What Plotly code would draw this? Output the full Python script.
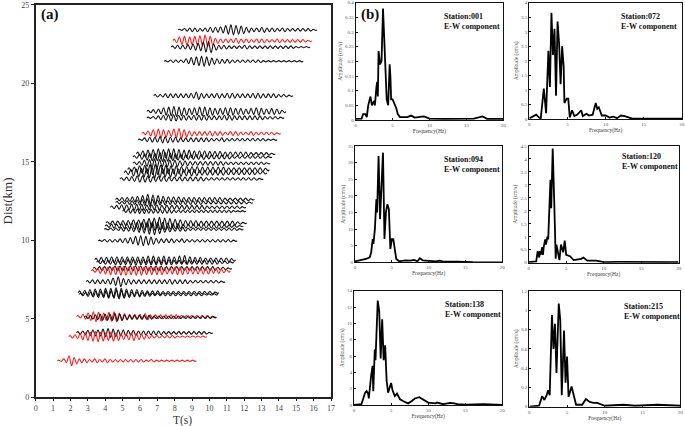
import plotly.graph_objects as go

W, H = 685, 426

# ---------------- Panel (a): seismogram record section ----------------
# distance (km), start time (s), end time (s), highlighted (red) flag
trace_dist = [23.4, 22.7, 22.3, 21.4, 19.2, 18.2, 17.8, 16.8, 16.4, 15.5, 15.3, 14.9,
              14.5, 14.3, 13.9, 12.6, 12.4, 12.1, 11.85, 11.1, 10.9, 10.7, 9.97, 8.75,
              8.6, 8.2, 8.05, 7.36, 6.66, 6.55, 5.13, 5.1, 4.1, 3.86, 2.33]
trace_t0 = [8.2, 7.9, 7.8, 7.4, 6.8, 6.4, 6.4, 6.1, 5.9, 5.8, 5.6, 5.6,
            5.3, 5.1, 4.85, 4.6, 4.6, 4.3, 5.0, 4.05, 4.0, 3.95, 3.6, 3.4,
            3.5, 3.3, 3.2, 2.9, 2.45, 2.5, 2.35, 2.8, 2.35, 1.9, 1.25]
trace_t1 = [16.2, 15.9, 15.8, 15.4, 14.8, 14.4, 14.3, 14.1, 13.9, 13.8, 13.6, 13.5,
            13.45, 13.3, 13.1, 12.6, 12.5, 12.1, 12.1, 12.15, 11.95, 11.95, 11.6, 11.5,
            11.4, 11.3, 11.2, 10.9, 10.55, 10.5, 10.4, 10.4, 10.2, 9.85, 9.25]
trace_red = [0, 1, 0, 0, 0, 0, 0, 1, 0, 0, 0, 0,
             0, 0, 0, 0, 0, 0, 0, 0, 0, 0, 0, 0,
             0, 0, 1, 0, 0, 0, 1, 0, 0, 1, 1]

# per-cycle peak amplitudes (units of 0.04 km)
w01 = [1,2,3,3,2,3,4,4,5,7,8,7,6,4,3,3,4,3,3,2,3,2,2,2,2,2,1]
w02 = [3,6,7,6,7,8,9,7,4,3,3,3,4,3,3,2,3,3,2,2,3,2,2,2,2,2,1]
w03 = [2,3,3,4,5,6,8,9,5,3,3,2,2,2,3,2,2,2,2,2,2,2,2,2,1,1,1]
w04 = [1,2,2,2,4,6,7,8,7,5,4,3,3,2,2,2,2,2,2,1,1,1,1,1,1,1,1]
w05 = [2,2,3,3,3,3,3,4,6,4,3,3,4,3,4,4,3,3,3,4,4,3,3,3,2,2,1]
w06 = [2,3,4,6,7,8,7,6,5,6,7,7,6,5,5,6,6,5,5,4,5,6,5,4,5,4,2]
w07 = [1,2,3,4,5,5,4,4,3,4,4,4,3,3,3,4,4,3,3,3,3,3,3,2,2,2,1]
w08 = [2,4,6,7,6,5,7,8,6,4,3,3,3,4,3,3,2,3,3,2,2,3,2,2,2,2,1]
w09 = [1,3,4,4,5,5,4,4,3,3,3,3,3,3,2,2,3,2,2,2,2,2,2,2,2,1,1]
w10 = [3,5,6,7,8,7,8,8,7,6,6,5,5,5,4,4,4,3,3,3,3,3,2,2,2,2,1]
w11 = [2,4,5,6,6,7,7,6,5,5,4,4,4,4,3,3,3,3,3,2,2,2,2,2,2,2,1]
w12 = [2,3,5,6,7,6,6,5,5,4,4,3,3,3,3,3,3,3,2,2,2,2,2,2,2,2,1]
w13 = [3,4,6,7,8,8,7,7,6,6,5,5,5,5,4,4,4,4,4,3,3,3,3,3,3,3,2]
w14 = [3,5,6,7,8,9,8,7,7,6,6,5,5,5,4,4,4,4,4,3,3,3,3,3,3,2,2]
w15 = [2,3,4,5,5,5,4,4,4,3,3,3,3,3,3,3,2,2,2,2,2,2,2,2,2,2,1]
w16 = [2,3,3,4,5,6,8,7,6,5,4,4,4,3,3,3,3,3,3,3,3,2,2,2,2,2,1]
w17 = [2,2,3,3,4,5,6,5,4,4,3,3,3,3,3,3,3,2,2,2,2,2,2,2,2,2,1]
w18 = [2,3,4,4,5,5,5,4,4,4,3,3,3,3,3,3,3,3,3,2,2,2,2,2,2,2,1]
w19 = [2,3,3,4,4,3,3,3,3,3,3,2,2,2,2,2,2,2,2,2,2,2,2,2,1,1,1]
w20 = [2,3,3,4,4,5,5,6,7,8,9,8,7,6,5,4,4,4,3,3,3,3,3,3,3,2,1]
w21 = [2,3,3,4,4,5,6,6,7,7,6,6,5,4,4,3,3,3,3,3,3,3,3,2,2,2,1]
w22 = [1,2,2,3,3,4,5,6,8,9,7,5,4,3,3,3,2,2,2,2,2,2,2,2,2,2,1]
w23 = [1,2,2,2,3,4,5,7,8,7,6,4,3,3,3,2,3,2,2,2,2,2,2,2,2,2,1]
w24 = [3,4,4,5,5,5,5,5,5,5,6,6,5,6,5,5,6,7,5,4,4,3,3,3,3,3,2]
w25 = [2,3,3,4,4,4,5,5,4,4,4,4,4,4,4,3,3,3,3,3,3,3,3,3,2,2,1]
w26 = [2,3,3,3,4,4,4,4,4,4,4,4,4,4,3,3,3,3,3,3,3,3,3,3,2,2,1]
w27 = [2,4,5,6,6,7,7,6,7,7,6,6,6,6,5,5,6,6,5,5,5,5,5,4,4,3,2]
w28 = [2,3,3,3,4,6,8,5,4,3,3,3,3,3,3,3,4,3,3,3,2,2,2,2,2,2,1]
w29 = [3,4,5,6,6,7,7,8,7,6,5,5,4,3,3,3,2,2,2,2,2,2,2,2,2,2,1]
w30 = [2,3,4,5,5,6,6,7,6,5,4,4,3,3,2,2,2,2,2,2,2,2,2,2,1,1,1]
w31 = [2,4,6,8,7,6,7,8,6,5,4,4,4,5,3,3,3,3,3,3,2,2,2,2,2,2,1]
w32 = [2,3,4,5,5,5,6,5,4,3,3,3,3,3,2,2,2,2,2,2,2,2,2,2,2,2,1]
w33 = [2,3,4,5,5,6,7,6,5,5,4,4,3,3,3,3,3,2,2,2,2,2,2,2,2,2,1]
w34 = [2,3,5,6,7,8,7,6,7,6,5,5,6,5,4,3,2,2,2,2,2,1,1,1,1,1,1]
w35 = [1,3,8,5,3,3,2,3,2,3,2,2,2,2,2,2,2,1,2,1,1,1,1,1,1,1,1]
trace_amps = [w01, w02, w03, w04, w05, w06, w07, w08, w09, w10, w11, w12, w13, w14,
              w15, w16, w17, w18, w19, w20, w21, w22, w23, w24, w25, w26, w27, w28,
              w29, w30, w31, w32, w33, w34, w35]
AMP_UNIT = 0.04

# ---------------- Panel (b): amplitude spectra ----------------
stations = ["001", "072", "094", "120", "138", "215"]
f001 = [0, 0.8, 1.0, 1.3, 1.5, 1.7, 2.0, 2.2, 2.5, 2.6, 2.8, 2.9, 3.0, 3.1, 3.3, 3.4, 3.5, 3.7, 3.8,
        3.9, 4.0, 4.1, 4.2, 4.4, 4.6, 4.7, 4.8, 5.0, 5.2, 5.5, 5.7, 6.0, 7.0, 7.5, 8.0, 9.2, 9.5,
        10, 12, 14, 16, 17.2, 17.8, 20]
a001 = [0.004, 0.005, 0.02, 0.02, 0.01, 0.05, 0.08, 0.05, 0.065, 0.05, 0.11, 0.13, 0.08, 0.235,
        0.19, 0.2, 0.2, 0.38, 0.32, 0.25, 0.24, 0.15, 0.07, 0.05, 0.19, 0.15, 0.07, 0.07, 0.06,
        0.04, 0.02, 0.01, 0.01, 0.015, 0.008, 0.012, 0.01, 0.005, 0.004, 0.004, 0.005, 0.012,
        0.004, 0.004]
f072 = [0, 0.9, 1.3, 1.5, 1.9, 2.1, 2.2, 2.5, 2.7, 2.9, 3.1, 3.3, 3.5, 3.7, 3.9, 4.1, 4.3, 4.5,
        4.6, 4.9, 5.1, 5.3, 5.6, 5.9, 6.3, 6.8, 7.0, 7.5, 7.8, 8.3, 8.7, 8.9, 9.1, 9.5, 10, 10.5,
        11, 11.5, 12, 12.5, 13, 13.5, 15, 20]
a072 = [0.02, 0.15, 0.05, 0.02, 1.05, 0.5, 0.2, 2.35, 1.1, 3.65, 2.2, 3.1, 0.8, 3.35, 2.6, 1.2,
        2.5, 1.8, 0.55, 0.7, 0.7, 0.05, 0.3, 0.1, 0.15, 0.3, 0.1, 0.18, 0.12, 0.15, 0.55, 0.35,
        0.4, 0.12, 0.12, 0.05, 0.08, 0.03, 0.12, 0.1, 0.05, 0.01, 0.01, 0.01]
f094 = [0, 0.5, 1.0, 1.5, 2.0, 2.2, 2.4, 2.5, 2.7, 2.9, 3.0, 3.2, 3.4, 3.6, 3.8, 4.0, 4.2, 4.4,
        4.6, 4.8, 5.0, 5.2, 5.4, 5.6, 6.0, 6.8, 7.5, 8.0, 8.5, 8.8, 9.2, 10, 11, 11.5, 12, 14,
        16, 20]
a094 = [0.3, 0.5, 0.8, 1.0, 1.5, 3.0, 7.0, 5.5, 10, 19, 15, 32, 13, 25, 33, 7, 15, 17.5, 16, 4,
        7, 7, 3, 1, 0.3, 0.6, 0.5, 0.7, 0.3, 1.2, 0.6, 0.4, 0.3, 0.5, 0.2, 0.2, 0.05, 0.0]
f120 = [0, 1.0, 1.2, 1.4, 1.5, 1.6, 1.8, 1.9, 2.0, 2.2, 2.3, 2.5, 2.6, 2.8, 2.9, 3.0, 3.2, 3.4,
        3.6, 3.7, 3.9, 4.1, 4.3, 4.6, 4.8, 5.0, 5.5, 6.0, 7.0, 7.3, 7.8, 9.0, 10, 12, 20]
a120 = [0.02, 0.05, 0.45, 0.2, 0.45, 0.3, 0.6, 0.3, 0.6, 0.9, 0.7, 1.0, 0.9, 2.2, 3.2, 2.1, 4.4,
        2.4, 0.15, 0.7, 0.3, 0.1, 0.7, 0.4, 0.85, 0.3, 0.25, 0.1, 0.15, 0.2, 0.08, 0.08, 0.02,
        0.03, 0.02]
f138 = [0, 1.0, 1.5, 1.7, 1.9, 2.0, 2.3, 2.5, 2.6, 2.8, 2.9, 3.0, 3.2, 3.4, 3.6, 3.8, 3.9, 4.0,
        4.2, 4.4, 4.6, 5.0, 5.2, 5.5, 5.8, 6.2, 6.8, 7.3, 7.8, 8.2, 8.8, 9.5, 10, 11, 11.2, 12,
        13, 13.5, 14, 15, 17.5, 20]
a138 = [0, 0.1, 1.5, 1.7, 1.4, 0.8, 3.5, 4.8, 1.7, 6.8, 5.5, 8, 12.8, 11.5, 5.7, 10.5, 8, 5.5,
        7.3, 3, 1.5, 2.7, 1.8, 1.1, 1.4, 0.7, 0.4, 0.2, 0.5, 0.8, 0.95, 0.6, 0.3, 0.2, 0.3, 0.1,
        0.25, 0.2, 0.1, 0.05, 0.1, 0.02]
f215 = [0, 1.3, 1.7, 2.0, 2.3, 2.5, 2.7, 3.0, 3.2, 3.4, 3.6, 3.9, 4.1, 4.3, 4.6, 4.8, 5.0, 5.2,
        5.6, 5.9, 6.2, 7.0, 7.5, 8.0, 8.5, 9.0, 10, 12.5, 14, 17, 20]
a215 = [0, 0.01, 0.11, 0.07, 0.12, 0.17, 0.12, 0.95, 0.6, 0.86, 0.35, 1.07, 0.9, 0.12, 0.79,
        0.25, 0.52, 0.1, 0.21, 0.1, 0.02, 0.02, 0.08, 0.05, 0.04, 0.04, 0.01, 0.02, 0.01, 0.02,
        0.01]
spec_f = [f001, f072, f094, f120, f138, f215]
spec_a = [a001, a072, a094, a120, a138, a215]
spec_ymax = [0.4, 4, 35, 4.5, 14, 1.2]
spec_dtick = [0.05, 0.5, 5, 0.5, 2, 0.2]

fig = go.Figure()

# draw seismograms
for d, t0, t1, red, amps in zip(trace_dist, trace_t0, trace_t1, trace_red, trace_amps):
    n = len(amps)
    T = (t1 - t0) / n
    xs, ys = [t0], [d]
    for i, a in enumerate(amps):
        xs += [t0 + (i + 0.25) * T, t0 + (i + 0.75) * T]
        ys += [d + a * AMP_UNIT, d - a * AMP_UNIT]
    xs.append(t1)
    ys.append(d)
    fig.add_trace(go.Scatter(
        x=xs, y=ys, mode="lines", xaxis="x", yaxis="y",
        line=dict(color="#ff1a1a" if red else "#111111", width=1.1, shape="spline", smoothing=1.0),
        showlegend=False, hoverinfo="skip"))

# panel pixel boxes (left, right, top, bottom)
boxes = [
    (355.7, 503.3, 2.7, 120.0),
    (529.3, 682.0, 2.7, 119.0),
    (355.0, 502.3, 146.0, 262.3),
    (528.7, 678.7, 146.0, 262.7),
    (354.0, 502.3, 290.7, 405.0),
    (529.3, 680.3, 291.0, 406.7),
]
serif = "Liberation Serif"

layout = dict(
    width=W, height=H, margin=dict(l=0, r=0, t=0, b=0, autoexpand=False),
    paper_bgcolor="white", plot_bgcolor="white", showlegend=False,
    font=dict(family=serif, color="#333333"),
    xaxis=dict(domain=[35.7 / W, 331 / W], range=[0, 17], dtick=1, tick0=0, automargin=False,
               showline=True, linecolor="#222", linewidth=1.5, mirror=True,
               ticks="outside", ticklen=2, tickcolor="#222", showgrid=False, zeroline=False,
               tickfont=dict(size=8, family=serif, color="#444")),
    yaxis=dict(domain=[1 - 397.3 / H, 1 - 4.7 / H], range=[0, 25], dtick=5, tick0=0, automargin=False,
               showline=True, linecolor="#222", linewidth=1.5, mirror=True,
               ticks="outside", ticklen=3, tickcolor="#222", showgrid=False, zeroline=False,
               tickfont=dict(size=8, family=serif, color="#444"),
               title=dict(text="Dist(km)", font=dict(size=13, family=serif, color="#333"), standoff=6)),
)

annotations = [
    dict(text="T(s)", x=183 / W, y=1 - 420 / H, xref="paper", yref="paper",
         xanchor="center", yanchor="middle", showarrow=False,
         font=dict(size=11.5, family=serif, color="#333")),
    dict(text="<b>(a)</b>", x=39 / W, y=1 - 14 / H, xref="paper", yref="paper",
         xanchor="left", yanchor="middle", showarrow=False,
         font=dict(size=15, family=serif, color="#111")),
    dict(text="<b>(b)</b>", x=359 / W, y=1 - 15 / H, xref="paper", yref="paper",
         xanchor="left", yanchor="middle", showarrow=False,
         font=dict(size=15, family=serif, color="#111")),
]
label_pos = [(441.7, 15.5), (619.3, 15.5), (442.3, 158.3), (620.3, 156.0), (442.7, 303.3), (622.0, 305.0)]

for k in range(6):
    ax = k + 2
    l, r, t, b = boxes[k]
    layout[f"xaxis{ax}"] = dict(
        domain=[l / W, r / W], range=[0, 20], dtick=5, tick0=0, anchor=f"y{ax}", automargin=False,
        showline=True, linecolor="#111", linewidth=1, mirror=True,
        ticks="inside", ticklen=2, tickcolor="#111", showgrid=False, zeroline=False,
        tickfont=dict(size=5, family=serif, color="#555"),
        title=dict(text="Frequency(Hz)", font=dict(size=5.5, family=serif, color="#444"), standoff=1))
    layout[f"yaxis{ax}"] = dict(
        domain=[1 - b / H, 1 - t / H], range=[0, spec_ymax[k]], dtick=spec_dtick[k], tick0=0,
        anchor=f"x{ax}", automargin=False,
        showline=True, linecolor="#111", linewidth=1, mirror=True,
        ticks="inside", ticklen=2, tickcolor="#111", showgrid=False, zeroline=False,
        tickfont=dict(size=5, family=serif, color="#555"),
        title=dict(text="Amplitude (cm/s)", font=dict(size=5.5, family=serif, color="#444"), standoff=2))
    fig.add_trace(go.Scatter(
        x=spec_f[k], y=spec_a[k], mode="lines", xaxis=f"x{ax}", yaxis=f"y{ax}",
        line=dict(color="#000000", width=1.8), showlegend=False, hoverinfo="skip"))
    lx, ly = label_pos[k]
    annotations.append(dict(
        text=f"<b>Station:{stations[k]}<br>E-W component</b>", x=lx / W, y=1 - (ly - 5.5) / H,
        xref="paper", yref="paper", xanchor="left", yanchor="top", align="left",
        showarrow=False, font=dict(size=8, family=serif, color="#111")))

layout["annotations"] = annotations
fig.update_layout(**layout)
fig.write_html("out.html", config={"displayModeBar": False},
               post_script="document.body.style.margin='0px';document.body.style.overflow='hidden';")
